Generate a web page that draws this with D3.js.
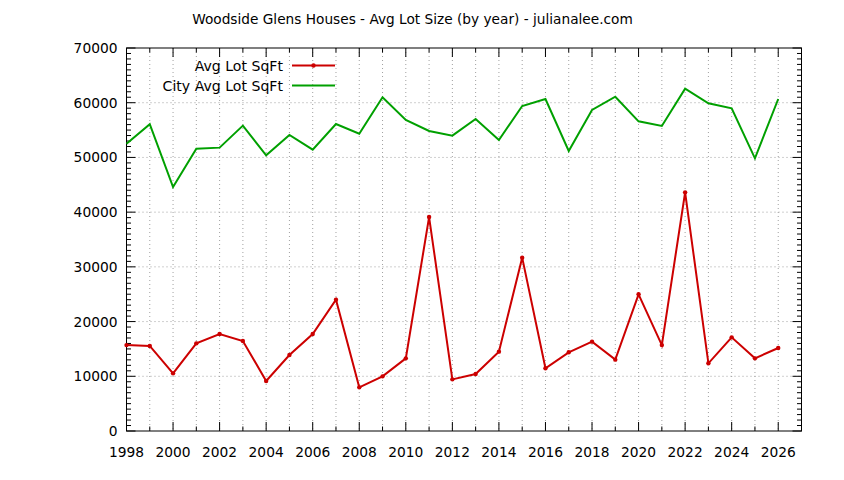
<!DOCTYPE html>
<html>
<head>
<meta charset="utf-8">
<script src="https://cdn.jsdelivr.net/npm/d3@7"></script>
<style>
	body { margin: 0; background: #fff; }
	svg { font-family: "DejaVu Sans", sans-serif; }
</style>
</head>
<body>
<script>
// data
var years = [1998, 1999, 2000, 2001, 2002, 2003, 2004, 2005, 2006, 2007,
	2008, 2009, 2010, 2011, 2012, 2013, 2014, 2015, 2016, 2017,
	2018, 2019, 2020, 2021, 2022, 2023, 2024, 2025, 2026];

var avgLot = [15700, 15540, 10540, 16020, 17730, 16450, 9140, 13890, 17730, 24000,
	7980, 9990, 13280, 39100, 9440, 10420, 14500, 31680, 11460, 14380,
	16330, 13040, 24980, 15700, 43620, 12370, 17120, 13280, 15170];

var cityAvgLot = [52510, 56060, 44600, 51600, 51790, 55810, 50390, 54100, 51420, 56110,
	54340, 60990, 56840, 54830, 53980, 57030, 53190, 59400, 60680, 51180,
	58670, 61100, 56600, 55750, 62570, 59900, 58980, 49840, 60680];

var xTicks = d3.range(1998, 2027, 2);
var xMinor = d3.range(1998, 2028, 1);
var yTicks = d3.range(0, 70001, 10000);
var yMinor = d3.range(0, 70001, 1000);

var title = "Woodside Glens Houses - Avg Lot Size (by year) - julianalee.com";

var series = [
	{ name: "Avg Lot SqFt", values: avgLot, color: "#cc0000", points: true },
	{ name: "City Avg Lot SqFt", values: cityAvgLot, color: "#00a000", points: false }
];

var chart = {
	width: 844,
	height: 480,
	left: 126.5,
	right: 801.5,
	top: 48,
	bottom: 431,

	init: function() {
		var svg = d3.select("body").append("svg")
			.attr("width", this.width)
			.attr("height", this.height);

		var x = d3.scaleLinear().domain([1998, 2027]).range([this.left, this.right]);
		var y = d3.scaleLinear().domain([0, 70000]).range([this.bottom, this.top]);

		// grid
		svg.append("g").selectAll("line").data(xMinor.slice(1, -1)).enter().append("line")
			.attr("x1", function(d) { return x(d); }).attr("x2", function(d) { return x(d); })
			.attr("y1", this.top).attr("y2", this.bottom)
			.attr("stroke", "#a0a0a0").attr("stroke-dasharray", "1,3");
		svg.append("g").selectAll("line").data(yTicks.slice(1, -1)).enter().append("line")
			.attr("y1", function(d) { return y(d); }).attr("y2", function(d) { return y(d); })
			.attr("x1", this.left).attr("x2", this.right)
			.attr("stroke", "#a0a0a0").attr("stroke-dasharray", "1,3");

		// ticks, mirrored on every side
		var major = 9, minor = 4.5;
		var t = svg.append("g").attr("stroke", "#000").attr("stroke-width", 1);
		var self = this;
		xMinor.forEach(function(d) {
			var len = (d % 2 === 0) ? major : minor;
			t.append("line").attr("x1", x(d)).attr("x2", x(d)).attr("y1", self.bottom).attr("y2", self.bottom - len);
			t.append("line").attr("x1", x(d)).attr("x2", x(d)).attr("y1", self.top).attr("y2", self.top + len);
		});
		yMinor.forEach(function(d) {
			var len = (d % 10000 === 0) ? major : minor;
			t.append("line").attr("y1", y(d)).attr("y2", y(d)).attr("x1", self.left).attr("x2", self.left + len);
			t.append("line").attr("y1", y(d)).attr("y2", y(d)).attr("x1", self.right).attr("x2", self.right - len);
		});

		// frame
		svg.append("rect")
			.attr("x", this.left).attr("y", this.top)
			.attr("width", this.right - this.left).attr("height", this.bottom - this.top)
			.attr("fill", "none").attr("stroke", "#000");

		// tick labels
		svg.append("g").selectAll("text").data(xTicks).enter().append("text")
			.attr("x", function(d) { return x(d); })
			.attr("y", 457)
			.attr("text-anchor", "middle")
			.attr("font-size", 13.8)
			.text(function(d) { return d; });
		svg.append("g").selectAll("text").data(yTicks).enter().append("text")
			.attr("x", 117.5)
			.attr("y", function(d) { return y(d); })
			.attr("dy", "0.36em")
			.attr("text-anchor", "end")
			.attr("font-size", 13.8)
			.text(function(d) { return d; });

		// title
		svg.append("text")
			.attr("x", 412.5).attr("y", 24)
			.attr("text-anchor", "middle")
			.attr("font-size", 13.7)
			.text(title);

		// lines
		var line = d3.line()
			.x(function(d, i) { return x(years[i]); })
			.y(function(d) { return y(d); });

		series.forEach(function(s, k) {
			svg.append("path")
				.attr("d", line(s.values))
				.attr("fill", "none")
				.attr("stroke", s.color)
				.attr("stroke-width", 2)
				.attr("stroke-linejoin", "miter");
			if (s.points) {
				svg.append("g").selectAll("circle").data(s.values).enter().append("circle")
					.attr("cx", function(d, i) { return x(years[i]); })
					.attr("cy", function(d) { return y(d); })
					.attr("r", 2.2)
					.attr("fill", s.color);
			}

			// legend
			var ly = 65.5 + k * 20;
			svg.append("text")
				.attr("x", 283).attr("y", ly)
				.attr("dy", "0.36em")
				.attr("text-anchor", "end")
				.attr("font-size", 14.1)
				.text(s.name);
			svg.append("line")
				.attr("x1", 292).attr("x2", 335)
				.attr("y1", ly).attr("y2", ly)
				.attr("stroke", s.color).attr("stroke-width", 2);
			if (s.points) {
				svg.append("circle").attr("cx", 313.5).attr("cy", ly).attr("r", 2.2).attr("fill", s.color);
			}
		});
	}
};

window.onload = function() {
	chart.init();
};
</script>
</body>
</html>
